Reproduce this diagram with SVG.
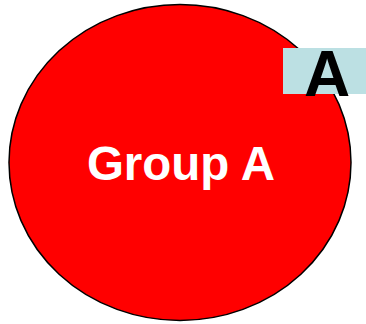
<svg xmlns="http://www.w3.org/2000/svg" width="366" height="324" viewBox="0 0 366 324">
<style>
.t{font-family:"Liberation Sans",Arial,sans-serif;font-weight:bold;text-anchor:middle}
</style>
<rect width="366" height="324" fill="#ffffff"/>
<g id="groupA">
<ellipse cx="180" cy="162.5" rx="171" ry="158" fill="#ff0000" stroke="#000000" stroke-width="1.5"/>
<text class="t" x="181" y="180" font-size="47.5" fill="#ffffff">Group A</text>
</g>
<g id="labelA">
<rect x="283" y="48" width="83" height="46" fill="#bce0e3"/>
<text class="t" x="327" y="95.5" font-size="64" fill="#000000">A</text>
</g>
</svg>
